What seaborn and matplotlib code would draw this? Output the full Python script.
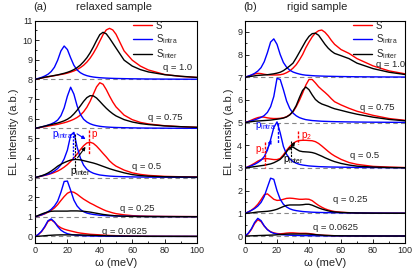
import numpy as np
import pandas as pd
import matplotlib
matplotlib.use("Agg")
import matplotlib.pyplot as plt
from matplotlib.ticker import MultipleLocator
import seaborn as sns

# ---------------- data ----------------
q_labels = ["q = 0.0625", "q = 0.25", "q = 0.5", "q = 0.75", "q = 1.0"]
offsets_a = [0, 1, 3, 5.5, 8]
offsets_b = [0, 1, 3, 5, 7]

omega_a = [0, 2, 4, 6, 8, 10, 12, 14, 16, 18, 20, 22, 24, 26, 28, 30, 32, 34, 36, 38,
           40, 42, 44, 46, 48, 50, 55, 60, 65, 70, 80, 90, 100]
omega_b = [0, 2, 4, 6, 8, 10, 12, 14, 16, 18, 20, 22, 24, 26, 28, 30, 32, 34, 36, 38,
           40, 42, 44, 46, 48, 50, 52, 54, 56, 60, 65, 70, 80, 90, 100]

# panel (a) relaxed sample
S_a_q0625 = [0, .09, .24, .47, .76, .85, .72, .55, .44, .37, .32, .28, .24, .2, .17, .15, .13, .11, .1, .09,
             .08, .07, .06, .05, .045, .04, .03, .02, .015, .01, .007, .005, .003]
Sintra_a_q0625 = [0, .1, .26, .5, .8, .89, .74, .5, .32, .21, .14, .1, .075, .058, .046, .037, .03, .025, .021, .018,
                  .016, .014, .012, .011, .01, .009, .007, .006, .005, .004, .003, .002, .002]
Sinter_a_q0625 = [0, .01, .02, .035, .05, .06, .07, .075, .08, .08, .08, .08, .08, .078, .075, .07, .065, .06, .055, .05,
                  .045, .04, .035, .03, .026, .022, .015, .01, .007, .005, .003, .002, .001]

S_a_q025 = [0, .04, .09, .15, .23, .33, .45, .62, .83, 1.03, 1.2, 1.28, 1.25, 1.15, 1.02, .9, .8, .7, .62, .53,
            .45, .37, .3, .25, .2, .16, .1, .06, .04, .03, .02, .015, .01]
Sintra_a_q025 = [0, .05, .1, .17, .26, .38, .55, .8, 1.25, 1.8, 1.82, 1.35, .85, .55, .37, .26, .19, .15, .12, .1,
                 .08, .07, .06, .05, .045, .04, .03, .025, .02, .016, .012, .009, .007]
Sinter_a_q025 = [0, .07, .14, .2, .25, .28, .29, .29, .29, .29, .29, .3, .3, .3, .29, .28, .26, .24, .21, .18,
                 .15, .12, .1, .08, .065, .05, .03, .02, .014, .01, .007, .005, .004]

S_a_q05 = [0, .03, .07, .11, .15, .2, .26, .33, .42, .53, .66, .82, 1.0, 1.2, 1.42, 1.62, 1.76, 1.8, 1.74, 1.6,
           1.42, 1.23, 1.05, .85, .7, .58, .38, .24, .16, .11, .06, .04, .03]
Sintra_a_q05 = [0, .04, .08, .12, .17, .23, .33, .46, .65, .95, 1.4, 2.15, 2.3, 1.55, 1.0, .63, .42, .3, .22, .17,
                .13, .11, .09, .075, .065, .056, .042, .033, .026, .021, .015, .011, .008]
Sinter_a_q05 = [0, .04, .09, .15, .23, .33, .45, .58, .68, .76, .83, .89, .92, .92, .9, .86, .82, .78, .74, .69,
                .63, .57, .51, .45, .4, .35, .24, .15, .1, .07, .04, .03, .02]

S_a_q075 = [0, .03, .06, .09, .12, .15, .18, .21, .25, .29, .34, .4, .47, .56, .68, .85, 1.08, 1.38, 1.75, 2.12,
            2.33, 2.25, 1.98, 1.65, 1.35, 1.1, .68, .45, .31, .23, .14, .09, .06]
Sintra_a_q075 = [0, .04, .08, .12, .17, .23, .31, .43, .65, 1.05, 1.65, 2.1, 1.75, 1.15, .72, .47, .33, .24, .18, .14,
                 .11, .09, .075, .065, .056, .05, .038, .03, .024, .02, .014, .01, .008]
Sinter_a_q075 = [0, .04, .08, .12, .16, .2, .24, .28, .33, .39, .47, .58, .74, .93, 1.15, 1.38, 1.57, 1.67, 1.66, 1.55,
                 1.38, 1.2, 1.03, .88, .75, .64, .45, .33, .25, .2, .13, .09, .06]

S_a_q1 = [0, .03, .07, .1, .13, .16, .19, .22, .25, .28, .32, .37, .43, .5, .6, .72, .88, 1.08, 1.33, 1.62,
          1.95, 2.28, 2.52, 2.6, 2.52, 2.3, 1.45, .98, .68, .48, .25, .15, .1]
Sintra_a_q1 = [0, .05, .1, .17, .26, .4, .62, .98, 1.45, 1.7, 1.52, 1.1, .72, .48, .34, .25, .19, .15, .12, .1,
               .085, .075, .065, .058, .052, .047, .038, .03, .025, .02, .015, .01, .008]
Sinter_a_q1 = [0, .03, .07, .11, .14, .17, .2, .23, .27, .31, .36, .42, .5, .6, .73, .9, 1.1, 1.35, 1.65, 1.98,
               2.28, 2.4, 2.32, 2.1, 1.85, 1.6, .98, .68, .5, .38, .24, .16, .1]

# panel (b) rigid sample
S_b_q0625 = [0, .1, .29, .55, .72, .64, .44, .29, .19, .14, .11, .1, .11, .13, .14, .14, .13, .12, .12, .12,
             .11, .09, .07, .05, .04, .03, .025, .02, .015, .01, .007, .005, .003, .002, .001]
Sintra_b_q0625 = [0, .12, .32, .6, .78, .68, .45, .28, .18, .12, .09, .07, .055, .045, .038, .032, .027, .023, .02, .018,
                  .016, .014, .012, .011, .01, .009, .008, .007, .007, .006, .005, .004, .003, .002, .002]
Sinter_b_q0625 = [0, .005, .01, .015, .02, .025, .03, .035, .04, .045, .055, .065, .075, .085, .09, .09, .09, .09, .09, .09,
                  .085, .075, .06, .05, .04, .03, .024, .018, .014, .01, .006, .004, .002, .001, .001]

S_b_q025 = [0, .06, .14, .25, .4, .6, .82, .86, .74, .62, .57, .58, .62, .66, .67, .66, .64, .62, .62, .63,
            .62, .56, .45, .35, .27, .2, .15, .11, .08, .05, .03, .02, .01, .007, .005]
Sintra_b_q025 = [0, .06, .13, .21, .32, .48, .74, 1.15, 1.55, 1.5, 1.0, .62, .4, .28, .2, .15, .12, .1, .08, .07,
                 .06, .05, .045, .04, .037, .034, .031, .029, .027, .023, .02, .017, .012, .009, .007]
Sinter_b_q025 = [0, .01, .02, .04, .06, .07, .08, .09, .11, .14, .18, .24, .3, .35, .37, .37, .37, .37, .38, .4,
                 .4, .36, .3, .24, .19, .15, .11, .08, .06, .04, .025, .015, .008, .005, .003]

S_b_q05 = [0, .06, .13, .21, .3, .37, .41, .41, .39, .37, .37, .42, .58, .78, .95, 1.08, 1.17, 1.21, 1.22, 1.22,
           1.21, 1.2, 1.16, 1.08, .97, .85, .73, .62, .53, .38, .24, .16, .07, .04, .02]
Sintra_b_q05 = [0, .05, .1, .16, .24, .34, .5, .78, 1.25, 1.78, 2.03, 1.55, .95, .6, .4, .28, .21, .16, .13, .11,
                .09, .08, .07, .06, .055, .05, .045, .042, .04, .035, .03, .025, .018, .013, .01]
Sinter_b_q05 = [0, .02, .04, .06, .08, .1, .12, .15, .18, .23, .3, .38, .52, .72, .9, .92, .83, .75, .72, .71,
                .7, .68, .64, .58, .52, .45, .39, .33, .28, .2, .13, .08, .04, .02, .01]

S_b_q075 = [0, .05, .11, .17, .22, .25, .24, .21, .19, .18, .18, .19, .21, .26, .35, .47, .7, .98, 1.3, 1.65,
            1.9, 1.9, 1.75, 1.58, 1.45, 1.33, 1.2, 1.05, .92, .78, .63, .5, .32, .18, .1]
Sintra_b_q075 = [0, .04, .08, .12, .17, .23, .31, .45, .7, 1.15, 1.95, 1.9, 1.45, .95, .62, .42, .3, .22, .17, .13,
                 .11, .09, .08, .07, .06, .055, .05, .045, .042, .036, .03, .025, .018, .013, .01]
Sinter_b_q075 = [0, .02, .04, .06, .07, .08, .09, .1, .11, .13, .15, .17, .2, .25, .34, .5, .75, 1.1, 1.42, 1.57,
                 1.45, 1.22, 1.02, .9, .82, .77, .72, .66, .61, .54, .45, .37, .24, .14, .08]

S_b_q1 = [0, .04, .09, .14, .17, .16, .13, .11, .1, .1, .1, .11, .14, .2, .28, .4, .55, .76, 1.0, 1.3,
          1.55, 1.78, 1.95, 2.05, 2.08, 1.98, 1.82, 1.62, 1.45, 1.22, 1.05, .82, .5, .28, .15]
Sintra_b_q1 = [0, .05, .1, .17, .27, .42, .68, 1.08, 1.55, 1.69, 1.45, 1.0, .65, .44, .31, .23, .18, .14, .11, .09,
               .08, .07, .06, .055, .05, .045, .042, .039, .036, .03, .025, .02, .015, .01, .008]
Sinter_b_q1 = [0, .02, .04, .06, .08, .09, .1, .11, .13, .15, .18, .22, .29, .39, .5, .62, .85, 1.1, 1.35, 1.6,
               1.8, 1.92, 1.94, 1.85, 1.65, 1.45, 1.28, 1.15, 1.05, .95, .82, .62, .38, .22, .12]

series_labels = ["S", r"S$_{\mathregular{intra}}$", r"S$_{\mathregular{inter}}$"]
series_colors = ["#ff0000", "#0000ff", "#000000"]

panel_a = [(S_a_q0625, Sintra_a_q0625, Sinter_a_q0625), (S_a_q025, Sintra_a_q025, Sinter_a_q025),
           (S_a_q05, Sintra_a_q05, Sinter_a_q05), (S_a_q075, Sintra_a_q075, Sinter_a_q075),
           (S_a_q1, Sintra_a_q1, Sinter_a_q1)]
panel_b = [(S_b_q0625, Sintra_b_q0625, Sinter_b_q0625), (S_b_q025, Sintra_b_q025, Sinter_b_q025),
           (S_b_q05, Sintra_b_q05, Sinter_b_q05), (S_b_q075, Sintra_b_q075, Sinter_b_q075),
           (S_b_q1, Sintra_b_q1, Sinter_b_q1)]

# ---------------- style ----------------
sns.set_style("ticks")
plt.rcParams["font.family"] = ["Liberation Sans", "DejaVu Sans"]
plt.rcParams["mathtext.fontset"] = "custom"
plt.rcParams["mathtext.rm"] = "Liberation Sans"
plt.rcParams["mathtext.it"] = "Liberation Sans:italic"

fig = plt.figure(figsize=(4.15, 2.73), dpi=100)
W, H = 415.0, 273.0
ax_a = fig.add_axes([35 / W, 1 - 243.3 / H, 162 / W, 222.8 / H])
ax_b = fig.add_axes([245 / W, 1 - 243.3 / H, 160 / W, 222.8 / H])


def draw_panel(ax, omega, panel, offsets, qpos, ylim, ymax_tick):
    for (curves, off, lab, qp) in zip(panel, offsets, q_labels, qpos):
        ax.axhline(off, color="#888888", ls=(0, (4, 3)), lw=0.8, zorder=1)
        for vals, col, sl in zip(curves, series_colors, series_labels):
            df = pd.DataFrame({"omega": omega, "I": np.asarray(vals) + off})
            sns.lineplot(data=df, x="omega", y="I", color=col, lw=1.0, ax=ax,
                         label=sl if off == offsets[-1] else None, legend=False, zorder=3)
        ax.text(qp[0], qp[1], lab, fontsize=6.8, ha="left", va="center")
    ax.set_xlim(0, 100)
    ax.set_ylim(*ylim)
    ax.set_yticks(range(0, ymax_tick + 1))
    ax.xaxis.set_major_locator(MultipleLocator(20))
    ax.xaxis.set_minor_locator(MultipleLocator(10))
    ax.yaxis.set_minor_locator(MultipleLocator(0.5))
    ax.tick_params(which="both", direction="in", labelsize=6.5, width=0.7, pad=2)
    ax.tick_params(which="major", length=3)
    ax.tick_params(which="minor", length=1.5)
    for s in ax.spines.values():
        s.set_linewidth(0.8)
        s.set_color("black")
    ax.set_xlabel("ω (meV)", fontsize=8, labelpad=2)
    ax.set_ylabel("EL intensity (a.b.)", fontsize=8, labelpad=2)


draw_panel(ax_a, omega_a, panel_a, offsets_a,
           [(41.5, 0.27), (52.5, 1.4), (60, 3.55), (70, 6.07), (79, 8.6)],
           (-0.35, 11.0), 11)
draw_panel(ax_b, omega_b, panel_b, offsets_b,
           [(42.7, 0.37), (55, 1.6), (65.6, 3.57), (72, 5.68), (82, 7.54)],
           (-0.32, 9.5), 9)

for ax, x0 in ((ax_a, 0.56), (ax_b, 0.63)):
    h, l = ax.get_legend_handles_labels()
    ax.legend(h, l, loc="upper left", bbox_to_anchor=(x0, 1.03), frameon=False, fontsize=7,
              handlelength=2.0, handletextpad=0.4, labelspacing=0.15, borderpad=0.2)

# titles and panel letters
ax_a.text(0.49, 1.04, "relaxed sample", transform=ax_a.transAxes, ha="center", va="bottom", fontsize=8)
ax_b.text(0.45, 1.04, "rigid sample", transform=ax_b.transAxes, ha="center", va="bottom", fontsize=8)
fig.text(33 / W, 1 - 7.5 / H, "(a)", ha="left", va="center", fontsize=8)
fig.text(243 / W, 1 - 7.5 / H, "(b)", ha="left", va="center", fontsize=8)

# annotations panel (a), q = 0.5
red, blue = "#ff0000", "#0000ff"
ax_a.plot([23.2, 23.2], [5.3, 3.9], color=blue, ls=(0, (1.5, 1)), lw=1.0, zorder=4)
ax_a.plot([24.4, 24.4], [5.2, 3.45], color="black", ls=(0, (2, 1)), lw=0.8, zorder=4)
ax_a.plot([33.5, 33.5], [5.4, 4.2], color=red, ls=(0, (2, 1)), lw=1.0, zorder=4)
ax_a.annotate("", xy=(32.7, 4.88), xytext=(24.5, 5.3),
              arrowprops=dict(arrowstyle="-|>", color=blue, lw=0.8, mutation_scale=5), zorder=5)
ax_a.annotate("", xy=(32.2, 4.68), xytext=(25.3, 3.9),
              arrowprops=dict(arrowstyle="-|>", color="black", lw=0.8, mutation_scale=5), zorder=5)
ax_a.text(10.8, 5.15, r"p$_{\mathregular{intra}}$", color=blue, fontsize=7, ha="left", va="center")
ax_a.text(34.6, 5.2, "p", color=red, fontsize=7, ha="left", va="center")
ax_a.text(21.6, 3.28, r"p$_{\mathregular{inter}}$", color="black", fontsize=7, ha="left", va="center")

# annotations panel (b), q = 0.5
ax_b.plot([20.8, 20.8], [5.0, 4.1], color=blue, ls=(0, (2, 1)), lw=1.0, zorder=4)
ax_b.plot([12.5, 12.5], [4.16, 3.0], color=red, ls=(0, (2, 1)), lw=1.0, zorder=4)
ax_b.plot([33.2, 33.2], [4.65, 4.05], color=red, ls=(0, (2, 1)), lw=1.0, zorder=4)
ax_b.plot([29.0, 29.0], [4.2, 3.45], color="black", ls=(0, (2, 1)), lw=0.8, zorder=4)
ax_b.annotate("", xy=(17.2, 4.35), xytext=(12.8, 3.65),
              arrowprops=dict(arrowstyle="-|>", color=blue, lw=0.8, mutation_scale=5), zorder=5)
ax_b.annotate("", xy=(32.2, 4.25), xytext=(27.0, 3.7),
              arrowprops=dict(arrowstyle="-|>", color="black", lw=0.8, mutation_scale=5), zorder=5)
ax_b.text(6.0, 4.85, r"p$_{\mathregular{intra}}$", color=blue, fontsize=7, ha="left", va="center")
ax_b.text(6.0, 3.8, r"p$_{\mathregular{1}}$", color=red, fontsize=7, ha="left", va="center")
ax_b.text(35.0, 4.42, r"p$_{\mathregular{2}}$", color=red, fontsize=7, ha="left", va="center")
ax_b.text(24.0, 3.35, r"p$_{\mathregular{inter}}$", color="black", fontsize=7, ha="left", va="center")

fig.savefig("out.png", dpi=100)
